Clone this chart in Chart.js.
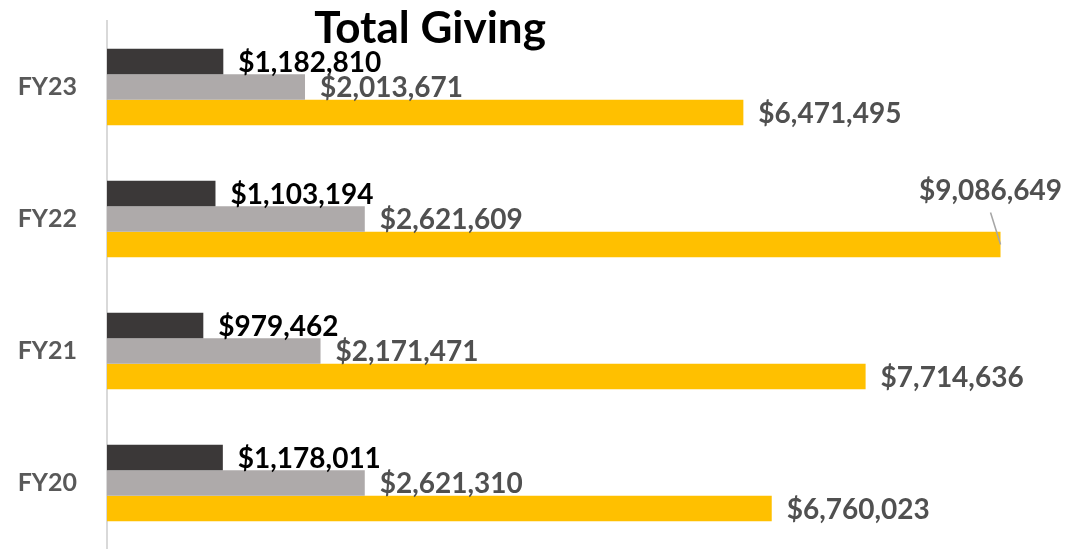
<!DOCTYPE html>
<html lang="en">
  <head>
    <meta charset="UTF-8" />
    <title>Total Giving</title>
    <script src="https://cdn.jsdelivr.net/npm/chart.js"></script>
    <style>
      html, body { margin: 0; padding: 0; background: #fff; }
      #wrap { position: relative; width: 1068px; height: 549px; }
      #title {
        position: absolute; left: 0; top: -2px; width: 860px;
        text-align: center; font: bold 44px Lato, sans-serif;
        line-height: 56px; color: #000;
      }
    </style>
  </head>
  <body>
    <div id="wrap">
      <canvas id="givingChart" width="1068" height="549"></canvas>
      <div id="title">Total Giving</div>
    </div>

    <script>
      // values
      const years = ['FY23', 'FY22', 'FY21', 'FY20'];
      const seriesDark = [1182810, 1103194, 979462, 1178011];
      const seriesGray = [2013671, 2621609, 2171471, 2621310];
      const seriesGold = [6471495, 9086649, 7714636, 6760023];

      const money = v => '$' + v.toLocaleString('en-US');

      // value labels at the bar ends, pushed above when they would not fit
      const barLabels = {
        id: 'barLabels',
        afterDatasetsDraw(chart) {
          const ctx = chart.ctx;
          ctx.save();
          ctx.font = 'bold 28px Lato, sans-serif';
          ctx.textBaseline = 'middle';
          chart.data.datasets.forEach((ds, i) => {
            const meta = chart.getDatasetMeta(i);
            meta.data.forEach((bar, j) => {
              const txt = money(ds.data[j]);
              const w = ctx.measureText(txt).width;
              ctx.fillStyle = ds.labelColor;
              if (bar.x + 15 + w > chart.width - 4) {
                ctx.textAlign = 'right';
                ctx.fillText(txt, chart.width - 6, bar.y - 54);
                ctx.strokeStyle = '#a6a6a6';
                ctx.lineWidth = 1.5;
                ctx.beginPath();
                ctx.moveTo(bar.x - 10, bar.y - 32);
                ctx.lineTo(bar.x, bar.y);
                ctx.stroke();
              } else {
                ctx.textAlign = 'left';
                ctx.fillText(txt, bar.x + 15, bar.y + 1);
              }
            });
          });
          ctx.restore();
        }
      };

      new Chart(document.getElementById('givingChart'), {
        type: 'bar',
        data: {
          labels: years,
          datasets: [
            { data: seriesDark, backgroundColor: '#3b3838', labelColor: '#000000' },
            { data: seriesGray, backgroundColor: '#aeaaaa', labelColor: '#505050' },
            { data: seriesGold, backgroundColor: '#ffc000', labelColor: '#505050' }
          ]
        },
        options: {
          indexAxis: 'y',
          responsive: false,
          animation: false,
          layout: { padding: { top: 21, right: 17, bottom: 0, left: 0 } },
          datasets: { bar: { barPercentage: 1, categoryPercentage: 0.58 } },
          plugins: { legend: { display: false }, tooltip: { enabled: false } },
          scales: {
            x: { display: false, min: 0, max: 9600000 },
            y: {
              afterFit(scale) {
                scale.width = 107;
                scale.paddingTop = 0;
                scale.paddingBottom = 0;
              },
              grid: { display: true, drawOnChartArea: false, drawTicks: false, tickLength: 0 },
              border: { display: true, color: '#d9d9d9', width: 2 },
              ticks: { padding: 30, color: '#595959', font: { family: 'Lato', size: 25, weight: 'bold' } }
            }
          }
        },
        plugins: [barLabels]
      });
    </script>
  </body>
</html>
